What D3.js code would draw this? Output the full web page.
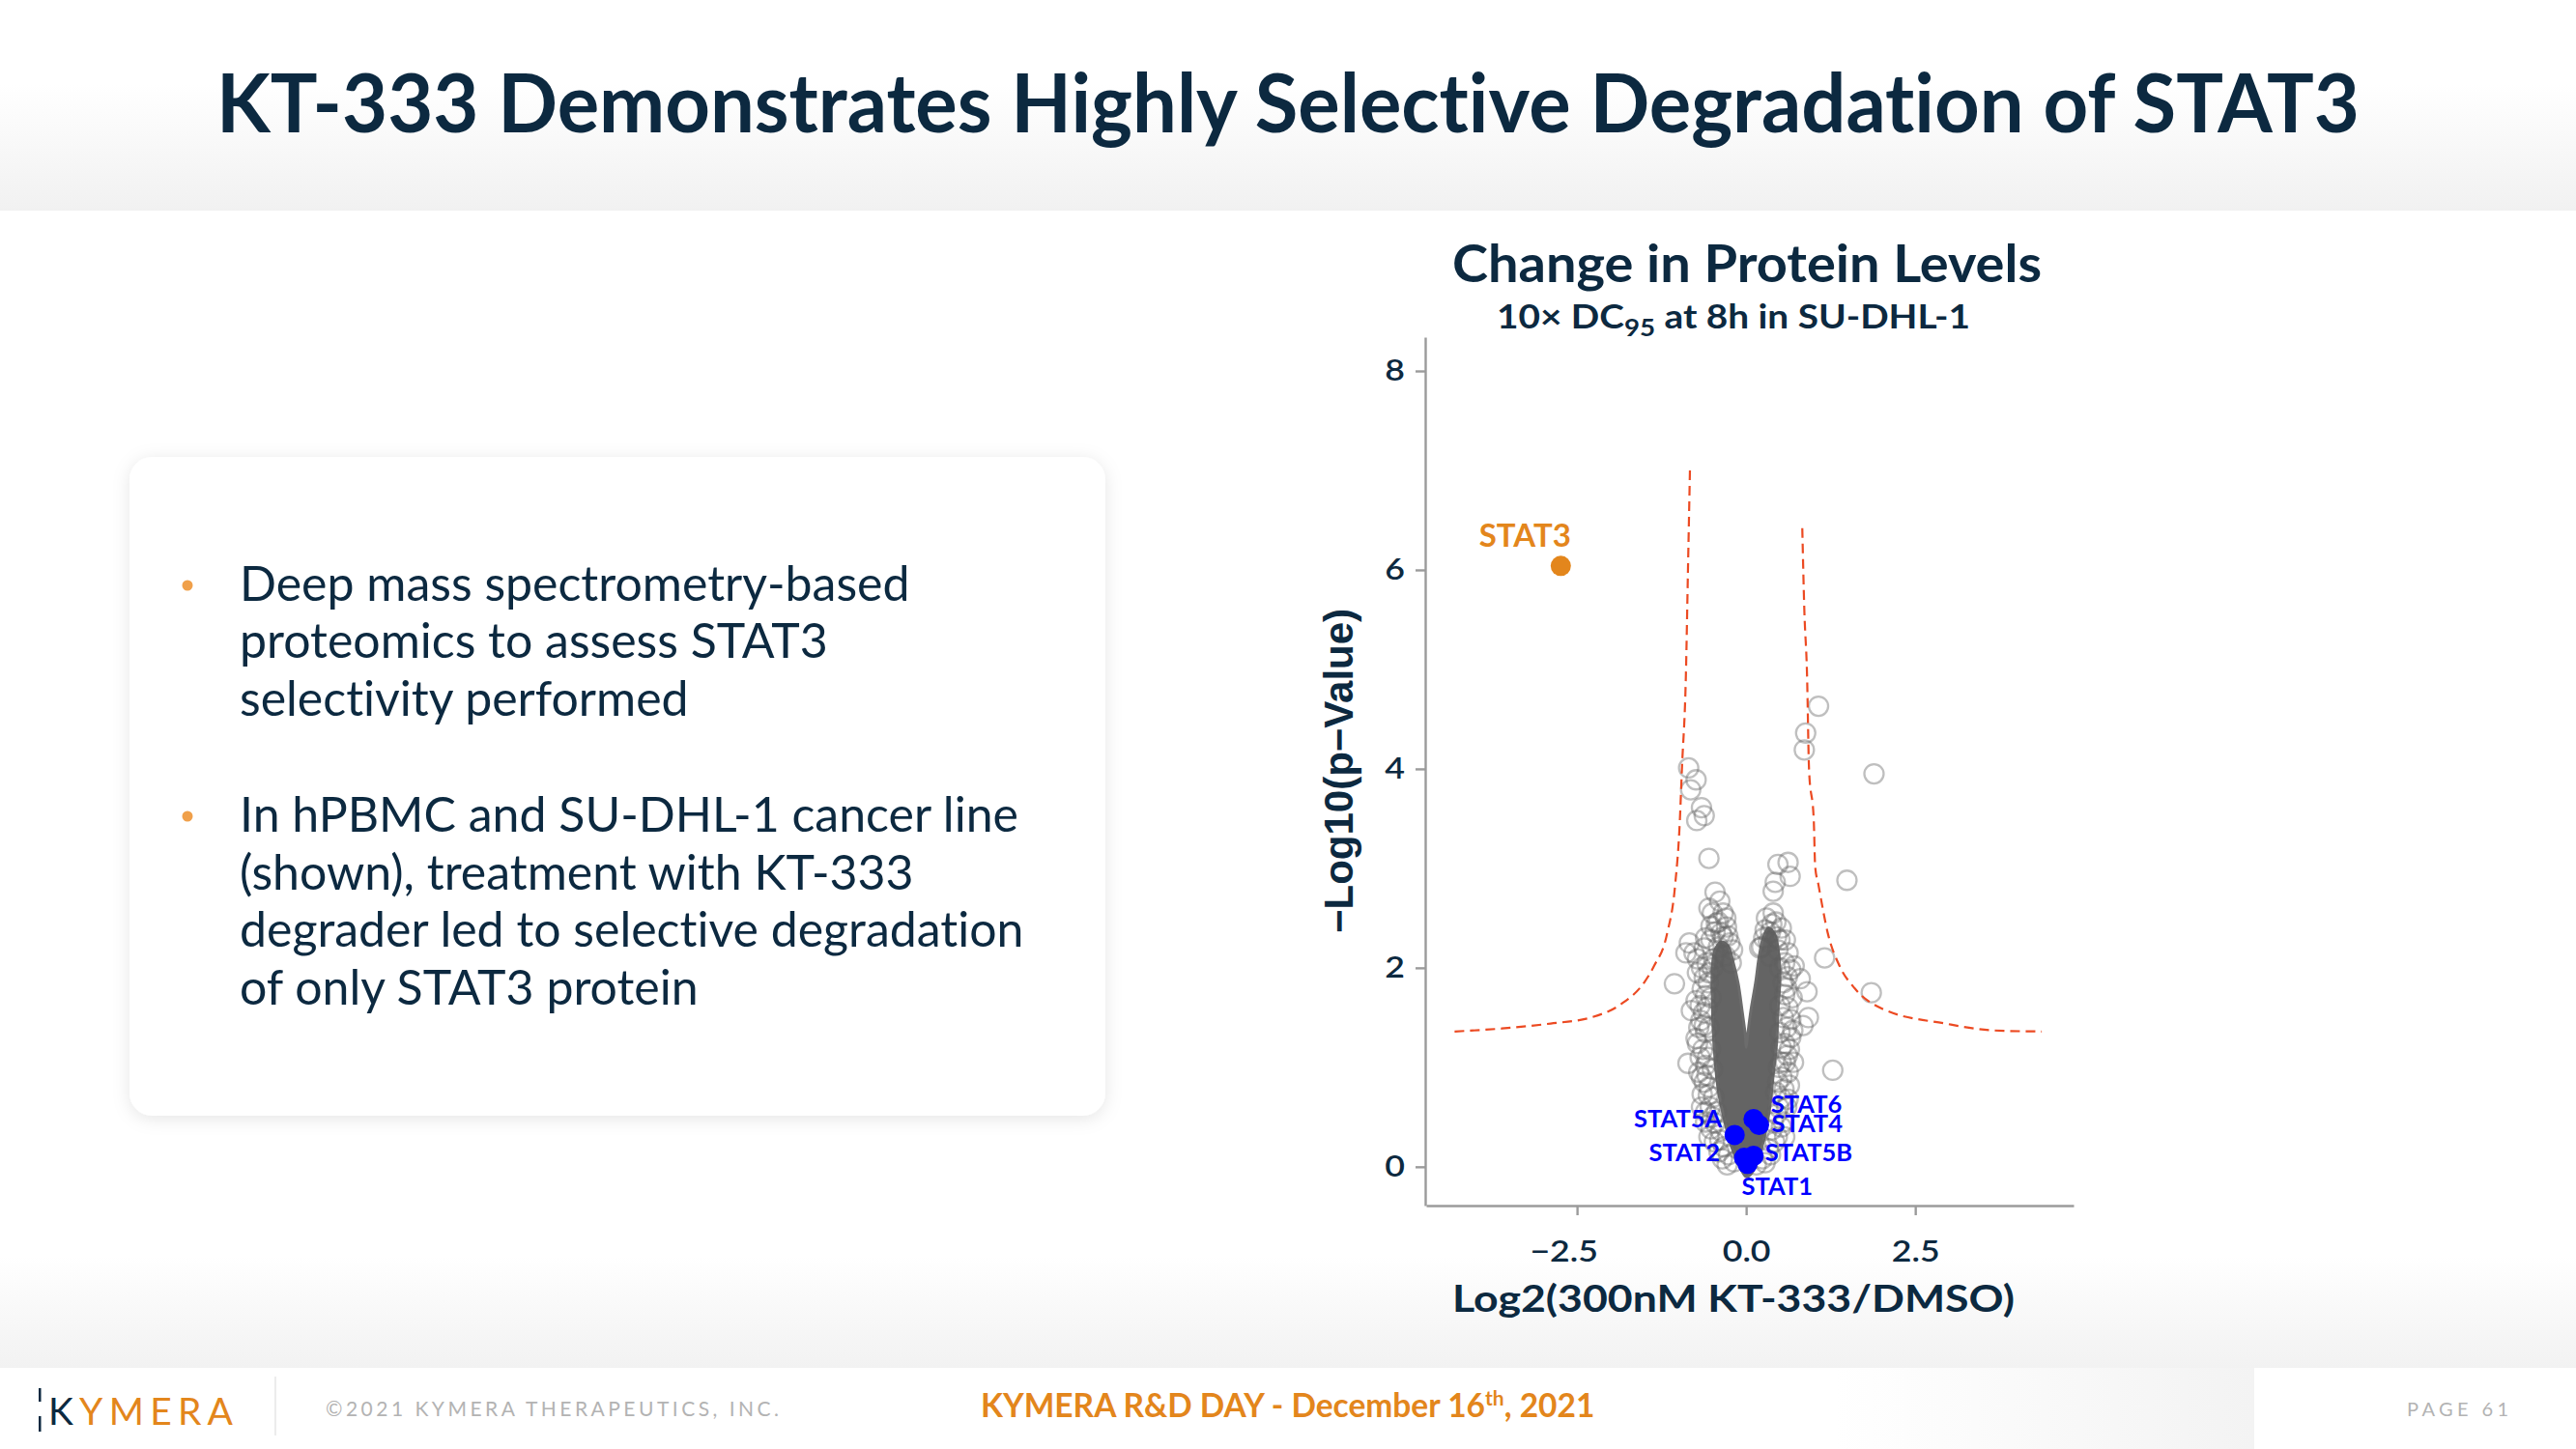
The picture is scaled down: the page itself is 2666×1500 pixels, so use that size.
<!DOCTYPE html>
<html><head><meta charset="utf-8">
<script src="https://cdn.jsdelivr.net/npm/d3@7"></script>
<style>html,body{margin:0;padding:0;background:#fff;} svg{display:block;font-family:Lato,"Noto Sans",sans-serif;font-variant-ligatures:none;}</style>
</head><body>
<svg id="c" width="2666" height="1500"></svg>
<script>
// ---------------- DATA ----------------
const highlightNames = ["STAT3","STAT5A","STAT6","STAT4","STAT2","STAT5B","STAT1"];
const highlightX = [-2.74,-0.17,0.11,0.19,-0.03,0.11,0.02];
const highlightY = [6.04,0.32,0.48,0.42,0.09,0.11,0.03];

// individual proteins visible as separate rings
const proteinPts = [
 [1.07,4.63],[0.88,4.36],[0.86,4.19],[1.89,3.95],
 [-0.85,4.01],[-0.74,3.89],[-0.82,3.79],[-0.66,3.61],[-0.62,3.53],[-0.73,3.48],
 [-0.55,3.10],[0.47,3.04],[0.62,3.06],[0.65,2.92],[0.43,2.86],[0.40,2.77],[1.49,2.88],
 [-0.46,2.76],[-0.39,2.67],[-0.55,2.60],[-0.34,2.55],[-0.41,2.46],[-0.29,2.41],[-0.46,2.36],
 [-0.34,2.31],[-0.24,2.25],[-0.41,2.21],[-0.31,2.12],[-0.22,2.05],[-0.48,2.09],[-0.55,1.95],
 [-0.84,2.25],[-0.89,2.15],[-0.77,2.15],[-0.72,2.09],[-0.72,1.95],[-0.65,1.79],[-1.06,1.84],
 [-0.81,1.57],[-0.74,1.67],[-0.67,1.47],[-0.72,1.24],[-0.86,1.04],[-0.74,1.29],
 [-0.58,0.92],[-0.65,0.73],[-0.53,0.60],[-0.46,0.44],[-0.39,0.27],[-0.62,0.85],
 [0.38,2.44],[0.28,2.38],[0.45,2.31],[0.33,2.26],[0.23,2.21],[0.47,2.18],[0.35,2.12],
 [0.57,2.05],[0.71,2.02],[0.61,1.91],[0.80,1.89],[0.90,1.76],[0.57,1.73],[0.92,1.50],
 [0.84,1.42],[0.69,1.37],[0.57,1.24],[0.61,1.12],[0.52,1.05],[0.47,0.85],[0.52,0.69],
 [0.45,0.53],[0.57,0.30],[0.38,0.37],
 [1.16,2.10],[1.85,1.75],[1.28,0.97],
 [-0.50,2.00],[-0.56,1.85],[-0.52,1.70],[-0.58,1.60],[-0.55,1.40],[-0.60,1.35],[-0.53,1.18],
 [-0.57,1.10],[-0.50,0.98],[-0.55,0.80],[-0.48,0.70],[-0.44,0.55],[-0.50,0.50],[-0.38,0.36],
 [-0.33,0.20],[-0.26,0.12],[-0.18,0.05],[-0.40,0.15],
 [0.50,2.00],[0.55,1.85],[0.50,1.62],[0.55,1.50],[0.50,1.35],[0.52,1.20],[0.48,1.00],
 [0.53,0.90],[0.44,0.75],[0.48,0.60],[0.40,0.45],[0.42,0.25],[0.33,0.18],[0.24,0.08],[0.15,0.02],
 [-0.68,1.10],[-0.70,0.95],[-0.66,0.60],[-0.60,0.45],[-0.55,0.30],
 [0.62,0.95],[0.60,0.60],[0.55,0.45],[0.66,1.30],[0.70,1.05],
 [-0.60,2.30],[-0.52,2.42],[-0.62,2.20],[-0.58,2.05],[-0.66,2.00],[-0.62,1.90],[-0.60,1.72],
 [-0.68,1.62],[-0.63,1.55],[-0.70,1.40],[-0.62,1.42],[-0.64,1.18],[-0.60,1.02],[-0.66,0.90],
 [-0.56,0.72],[-0.60,0.55],[-0.52,0.38],[-0.47,0.25],[-0.35,0.08],[-0.28,0.02],
 [0.52,2.40],[0.58,2.28],[0.62,2.15],[0.66,1.98],[0.60,1.80],[0.68,1.70],[0.62,1.60],
 [0.66,1.48],[0.60,1.40],[0.64,1.18],[0.58,1.05],[0.64,0.82],[0.56,0.78],[0.62,0.68],
 [0.52,0.40],[0.46,0.30],[0.36,0.12],[0.28,0.04],
 [-0.44,2.45],[-0.30,2.50],[-0.50,2.55],[-0.37,2.35],[-0.27,2.32],[-0.20,2.18],[-0.52,2.28],
 [0.30,2.50],[0.40,2.55],[0.36,2.36],[0.26,2.30],[0.44,2.46],[0.20,2.20],[0.50,2.28]
];
// outline of the dense, fully overlapped core of the protein cloud
const coreX = [0.00,-0.10,-0.22,-0.31,-0.41,-0.46,-0.49,-0.50,-0.50,-0.46,-0.37,-0.27,-0.19,-0.12,-0.06,-0.01,0.00,
               0.02,0.07,0.14,0.19,0.25,0.33,0.42,0.48,0.50,0.47,0.45,0.40,0.35,0.26,0.14,0.06];
const coreY = [-0.10,0.01,0.21,0.44,0.76,1.08,1.41,1.70,2.00,2.18,2.26,2.22,2.05,1.85,1.57,1.31,1.20,
               1.31,1.57,1.85,2.10,2.30,2.40,2.34,2.15,1.90,1.57,1.24,0.92,0.60,0.27,0.01,-0.08];
// significance threshold curves
const leftCurveX  = [-4.31,-3.61,-2.89,-2.30,-1.86,-1.50,-1.36,-1.17,-1.05,-0.98,-0.95,-0.89,-0.86,-0.83];
const leftCurveY  = [1.36,1.39,1.44,1.50,1.63,1.86,2.02,2.34,2.83,3.48,3.99,4.96,6.00,7.03];
const rightCurveX = [0.83,0.86,0.90,0.93,1.00,1.02,1.07,1.21,1.38,1.61,2.04,2.94,3.67,4.37];
const rightCurveY = [6.42,5.60,4.95,3.99,3.48,3.02,2.83,2.34,2.02,1.79,1.58,1.44,1.37,1.36];

const xTicks = [-2.5,0,2.5];
const xTickLabels = ["\u22122.5","0.0","2.5"];
const yTicks = [0,2,4,6,8];

const bullet1 = ["Deep mass spectrometry-based","proteomics to assess STAT3","selectivity performed"];
const bullet2 = ["In hPBMC and SU-DHL-1 cancer line","(shown), treatment with KT-333","degrader led to selective degradation","of only STAT3 protein"];

// ---------------- LAYOUT ----------------
const W=2666,H=1500;
const navy="#0c2940", orange="#e3861c", blue="#0000ff", red="#ec4a22";
const svg=d3.select("#c");
const defs=svg.append("defs");

function grad(id,stops,x2,y2){
  const g=defs.append("linearGradient").attr("id",id).attr("x1",0).attr("y1",0).attr("x2",x2).attr("y2",y2);
  stops.forEach(s=>g.append("stop").attr("offset",s[0]).attr("stop-color",s[1]));
}
grad("hg",[["0%","#ffffff"],["40%","#ffffff"],["100%","#f1f1f1"]],0,1);
grad("bg",[["0%","#ffffff"],["100%","#f2f2f2"]],0,1);
grad("fg",[["0%","#ffffff"],["100%","#f3f3f3"]],1,0);

function stretch(sel,factor){
  sel.each(function(){const w=this.getComputedTextLength();
    d3.select(this).attr("textLength",w*factor).attr("lengthAdjust","spacingAndGlyphs");});
}

svg.append("rect").attr("width",W).attr("height",H).attr("fill","#fff");
svg.append("rect").attr("x",0).attr("y",0).attr("width",W).attr("height",218).attr("fill","url(#hg)");
svg.append("rect").attr("x",0).attr("y",1300).attr("width",W).attr("height",116).attr("fill","url(#bg)");
svg.append("rect").attr("x",1900).attr("y",1416).attr("width",433).attr("height",84).attr("fill","url(#fg)");

// title
svg.append("text").attr("x",1333).attr("y",137).attr("text-anchor","middle")
  .attr("font-size",84).attr("font-weight",700).attr("fill",navy)
  .attr("textLength",2218).attr("lengthAdjust","spacingAndGlyphs")
  .text("KT-333 Demonstrates Highly Selective Degradation of STAT3");

// card
const f=defs.append("filter").attr("id","sh").attr("x","-10%").attr("y","-10%").attr("width","120%").attr("height","120%");
f.append("feDropShadow").attr("dx",0).attr("dy",3).attr("stdDeviation",9).attr("flood-color","#000").attr("flood-opacity",0.10);
svg.append("rect").attr("x",134).attr("y",473).attr("width",1010).attr("height",682).attr("rx",24)
  .attr("fill","#fff").attr("filter","url(#sh)");

function bullet(lines,y0,dotY){
  svg.append("circle").attr("cx",194).attr("cy",dotY).attr("r",5.5).attr("fill","#f0a04a");
  const t=svg.append("text").attr("font-size",50).attr("fill",navy);
  lines.forEach((l,i)=>t.append("tspan").attr("x",248).attr("y",y0+i*59.5).text(l));
}
bullet(bullet1,621.5,606);
bullet(bullet2,861,845);

// chart titles
svg.append("text").attr("x",1808).attr("y",292).attr("text-anchor","middle")
  .attr("font-size",54).attr("font-weight",700).attr("fill",navy)
  .attr("textLength",610).attr("lengthAdjust","spacingAndGlyphs").text("Change in Protein Levels");
const st=svg.append("text").attr("x",1794).attr("y",340).attr("text-anchor","middle")
  .attr("font-size",35).attr("font-weight",700).attr("fill",navy);
st.append("tspan").text("10\u00d7 DC");
st.append("tspan").attr("font-size",25).attr("dy",8).text("95");
st.append("tspan").attr("dy",-8).text(" at 8h in SU-DHL-1");
st.attr("textLength",490).attr("lengthAdjust","spacingAndGlyphs");

// scales
const x=d3.scaleLinear().domain([-4.73,4.84]).range([1476,2146]);
const y=d3.scaleLinear().domain([-0.39,8.34]).range([1248,349]);

// axes
const gy=svg.append("g").attr("transform","translate(1475,0)")
  .call(d3.axisLeft(y).tickValues(yTicks).tickSize(10).tickSizeOuter(0).tickPadding(11).tickFormat(d3.format("d")));
const gx=svg.append("g").attr("transform","translate(0,1248)")
  .call(d3.axisBottom(x).tickValues(xTicks).tickSize(10).tickSizeOuter(0).tickPadding(26).tickFormat((d,i)=>xTickLabels[i]));
[gx,gy].forEach(g=>{
  g.attr("font-family","Lato").attr("font-size",31);
  g.select(".domain").attr("stroke","#9b9b9b").attr("stroke-width",2.4);
  g.selectAll(".tick line").attr("stroke","#9b9b9b").attr("stroke-width",2.4);
  g.selectAll(".tick text").attr("fill",navy).attr("font-weight",600);
  stretch(g.selectAll(".tick text"),1.15);
});
gx.selectAll(".tick text").attr("dx",(d)=>d<0?-14:0);

svg.append("text").attr("transform","translate(1400,798) rotate(-90)").attr("text-anchor","middle")
  .attr("font-family","'Liberation Sans',Arial,sans-serif").attr("font-weight",700).attr("font-size",42)
  .attr("fill",navy).text("\u2212Log10(p\u2212Value)");
svg.append("text").attr("x",1794).attr("y",1358).attr("text-anchor","middle")
  .attr("font-size",39).attr("font-weight",700).attr("fill",navy)
  .attr("textLength",582).attr("lengthAdjust","spacingAndGlyphs").text("Log2(300nM KT-333/DMSO)");

// core cloud
const coreLine=d3.line().x(d=>x(d[0])).y(d=>y(d[1])).curve(d3.curveCatmullRomClosed.alpha(0.5));
svg.append("path").datum(coreX.map((v,i)=>[v,coreY[i]])).attr("d",coreLine)
  .attr("fill","#646464").attr("stroke","#6c6c6c").attr("stroke-width",3);

// rings
svg.append("g").selectAll("circle").data(proteinPts).join("circle")
  .attr("cx",d=>x(d[0])).attr("cy",d=>y(d[1])).attr("r",10)
  .attr("fill","none").attr("stroke","#5e5e5e").attr("stroke-opacity",0.4).attr("stroke-width",2.3);

// curves
const cl=d3.line().x(d=>x(d[0])).y(d=>y(d[1])).curve(d3.curveMonotoneX);
[[leftCurveX,leftCurveY],[rightCurveX,rightCurveY]].forEach(([cx,cy])=>{
  svg.append("path").datum(cx.map((v,i)=>[v,cy[i]])).attr("d",cl)
    .attr("fill","none").attr("stroke",red).attr("stroke-width",2.2).attr("stroke-dasharray","10,6");
});

// highlighted proteins
const labelOff = {STAT3:[-37,-20,"middle",33],STAT5A:[-13,-8,"end",25.5],STAT6:[18,-6,"start",25.5],
  STAT4:[13,7,"start",25.5],STAT2:[-25,3,"end",25.5],STAT5B:[12,5,"start",25.5],STAT1:[-6,32,"start",25.5]};
const hl=highlightNames.map((n,i)=>({n,x:highlightX[i],y:highlightY[i]}));
svg.append("g").selectAll("circle").data(hl).join("circle")
  .attr("cx",d=>x(d.x)).attr("cy",d=>y(d.y)).attr("r",10.5)
  .attr("fill",d=>d.n==="STAT3"?orange:blue);
svg.append("g").selectAll("text").data(hl).join("text")
  .attr("x",d=>x(d.x)+labelOff[d.n][0]).attr("y",d=>y(d.y)+labelOff[d.n][1])
  .attr("text-anchor",d=>labelOff[d.n][2]).attr("font-size",d=>labelOff[d.n][3])
  .attr("font-weight",700).attr("fill",d=>d.n==="STAT3"?orange:blue).text(d=>d.n);

// footer
svg.append("rect").attr("x",40).attr("y",1437).attr("width",2.5).attr("height",14).attr("fill",navy);
svg.append("rect").attr("x",40).attr("y",1466).attr("width",2.5).attr("height",16).attr("fill",navy);
const logo=svg.append("text").attr("x",50).attr("y",1475).attr("font-size",39).attr("font-weight",400)
  .attr("textLength",191).attr("lengthAdjust","spacing");
logo.append("tspan").attr("fill",navy).text("K");
logo.append("tspan").attr("fill",orange).text("YMERA");
svg.append("line").attr("x1",285).attr("x2",285).attr("y1",1425).attr("y2",1486).attr("stroke","#e6e6e6").attr("stroke-width",1.5);
svg.append("text").attr("x",337).attr("y",1466).attr("font-size",21).attr("fill","#b3b3b3")
  .attr("textLength",469).attr("lengthAdjust","spacing").text("\u00a92021 KYMERA THERAPEUTICS, INC.");
const ft=svg.append("text").attr("x",1015).attr("y",1467).attr("font-size",33.5).attr("font-weight",700).attr("fill",orange);
ft.append("tspan").text("KYMERA R&D DAY - December 16");
ft.append("tspan").attr("font-size",21).attr("dy",-12).text("th");
ft.append("tspan").attr("dy",12).text(", 2021");
svg.append("text").attr("x",2491).attr("y",1466).attr("font-size",20).attr("fill","#b3b3b3")
  .attr("textLength",105).attr("lengthAdjust","spacing").text("PAGE 61");
</script>
</body></html>
